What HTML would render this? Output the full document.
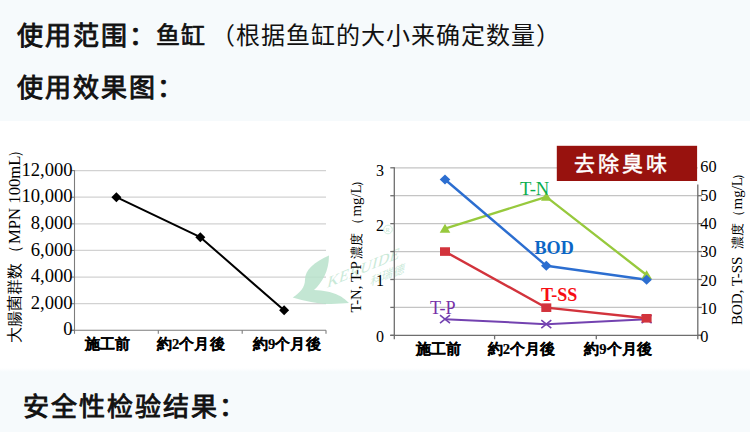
<!DOCTYPE html>
<html lang="zh-CN">
<head>
<meta charset="utf-8">
<style>
html,body{margin:0;padding:0;}
body{width:750px;height:432px;overflow:hidden;background:#f6fafc;position:relative;font-family:"Liberation Sans",sans-serif;color:#111;}
.h{position:absolute;left:17px;white-space:nowrap;font-weight:normal;-webkit-text-stroke:0.9px #111;font-size:26px;letter-spacing:2px;line-height:30px;}
.r{position:absolute;white-space:nowrap;font-weight:normal;font-size:24px;letter-spacing:1px;line-height:30px;}
#chart{position:absolute;left:0;top:121px;width:750px;height:251px;background:linear-gradient(to bottom,#fff 0,#fff 247px,#f6fafc 251px);}
svg{position:absolute;left:0;top:0;}
svg text{font-family:"Liberation Serif",serif;}
svg .cj{font-family:"Liberation Sans",sans-serif;}
</style>
</head>
<body>
<div class="h" style="top:21px;">使用范围：</div>
<div class="r" style="top:21px;left:156px;-webkit-text-stroke:0.7px #111;">鱼缸</div>
<div class="r" style="top:21px;left:210.5px;">（根据鱼缸的大小来确定数量）</div>
<div class="h" style="top:73px;">使用效果图：</div>
<div id="chart"></div>
<svg width="750" height="432" viewBox="0 0 750 432">

<g stroke="#d2d2d2" stroke-width="1.2">
<line x1="74.5" y1="170.6" x2="326" y2="170.6"/>
<line x1="74.5" y1="197.22" x2="326" y2="197.22"/>
<line x1="74.5" y1="223.84" x2="326" y2="223.84"/>
<line x1="74.5" y1="250.46" x2="326" y2="250.46"/>
<line x1="74.5" y1="277.08" x2="326" y2="277.08"/>
<line x1="74.5" y1="303.7" x2="326" y2="303.7"/>
</g>
<g stroke="#7c7c7c" stroke-width="1.1">
<line x1="74.5" y1="170.1" x2="74.5" y2="333.82"/>
<line x1="71" y1="330.32" x2="326" y2="330.32"/>
<line x1="71" y1="170.6" x2="74.5" y2="170.6"/>
<line x1="71" y1="197.22" x2="74.5" y2="197.22"/>
<line x1="71" y1="223.84" x2="74.5" y2="223.84"/>
<line x1="71" y1="250.46" x2="74.5" y2="250.46"/>
<line x1="71" y1="277.08" x2="74.5" y2="277.08"/>
<line x1="71" y1="303.7" x2="74.5" y2="303.7"/>
<line x1="71" y1="330.32" x2="74.5" y2="330.32"/>
<line x1="158.3" y1="330.32" x2="158.3" y2="333.82"/>
<line x1="242.2" y1="330.32" x2="242.2" y2="333.82"/>
<line x1="326" y1="330.32" x2="326" y2="333.82"/>
</g>
<g font-size="18.6" text-anchor="end" fill="#000">
<text x="72.6" y="175.7">12,000</text>
<text x="72.6" y="202.32">10,000</text>
<text x="72.6" y="228.94">8,000</text>
<text x="72.6" y="255.56">6,000</text>
<text x="72.6" y="282.18">4,000</text>
<text x="72.6" y="308.8">2,000</text>
<text x="72.6" y="335.42">0</text>
</g>
<polyline points="116.4,197.22 200.3,237.15 284.1,310.36" fill="none" stroke="#000" stroke-width="2" stroke-linejoin="round"/>
<g fill="#000">
<path d="M116.4,192.22 L121.4,197.22 L116.4,202.22 L111.4,197.22Z"/>
<path d="M200.3,232.15 L205.3,237.15 L200.3,242.15 L195.3,237.15Z"/>
<path d="M284.1,305.36 L289.1,310.36 L284.1,315.36 L279.1,310.36Z"/>
</g>
<g font-size="14.6" font-weight="bold" fill="#000" stroke="#000" stroke-width="0.2" lang="ja" letter-spacing="0.05">
<text class="cj" x="85" y="349.3">施工前</text>
<text class="cj" x="157" y="349.3">約<tspan style="font-family:'Liberation Serif'">2</tspan>个月後</text>
<text class="cj" x="253" y="349.3">約<tspan style="font-family:'Liberation Serif'">9</tspan>个月後</text>
</g>
<g transform="translate(20,342.5) rotate(-90)" fill="#000" lang="ja">
<text class="cj" x="-0.5" y="0" font-size="16.3">大腸菌群数</text>
<text class="cj" x="81.5" y="0" font-size="16.3">（</text>
<text x="98.5" y="0" font-size="16.7">MPN 100mL</text>
<text class="cj" x="185" y="0" font-size="16.3">）</text>
</g>
<path fill="#b9e2cb" fill-opacity="0.85" d="M329,255.5 C314,262 305,270 305,280 C305,287 300,293 292.7,297.5 C305,301 320,304.5 331,304 C338,303.5 344,303.5 349,303 C342,296 334,291 314,290 C322,283 329,271 329,255.5Z"/>
<g transform="matrix(0.92,-0.38,-0.22,0.97,326.5,288)" fill="#c9e9d7"><text x="0" y="0" font-size="17" letter-spacing="0.6">KERUIDE</text></g>
<g transform="matrix(0.92,-0.38,-0.15,0.99,370,286)" fill="#cbeada" lang="zh-CN"><text class="cj" x="0" y="0" font-size="12.3" letter-spacing="0.3">科瑞德</text></g>
<circle cx="388" cy="229.5" r="4.3" fill="none" stroke="#c5e8d5" stroke-width="0.8"/>
<text x="385.4" y="232" font-size="6.5" fill="#c5e8d5">R</text>
<g stroke="#c4c4c4" stroke-width="1.25">
<line x1="394.3" y1="167.8" x2="697.8" y2="167.8"/>
<line x1="394.3" y1="195.72" x2="697.8" y2="195.72"/>
<line x1="394.3" y1="223.64" x2="697.8" y2="223.64"/>
<line x1="394.3" y1="251.56" x2="697.8" y2="251.56"/>
<line x1="394.3" y1="279.48" x2="697.8" y2="279.48"/>
<line x1="394.3" y1="307.4" x2="697.8" y2="307.4"/>
</g>
<g stroke="#6e6e6e" stroke-width="1.3">
<line x1="394.3" y1="167.3" x2="394.3" y2="339.32"/>
<line x1="697.8" y1="184.5" x2="697.8" y2="339.32"/>
<line x1="390.3" y1="335.32" x2="701.8" y2="335.32"/>
<line x1="390.3" y1="167.8" x2="394.3" y2="167.8"/>
<line x1="390.3" y1="195.72" x2="394.3" y2="195.72"/>
<line x1="390.3" y1="223.64" x2="394.3" y2="223.64"/>
<line x1="390.3" y1="251.56" x2="394.3" y2="251.56"/>
<line x1="390.3" y1="279.48" x2="394.3" y2="279.48"/>
<line x1="390.3" y1="307.4" x2="394.3" y2="307.4"/>
<line x1="390.3" y1="335.32" x2="394.3" y2="335.32"/>
<line x1="697.8" y1="195.72" x2="701.8" y2="195.72"/>
<line x1="697.8" y1="223.64" x2="701.8" y2="223.64"/>
<line x1="697.8" y1="251.56" x2="701.8" y2="251.56"/>
<line x1="697.8" y1="279.48" x2="701.8" y2="279.48"/>
<line x1="697.8" y1="307.4" x2="701.8" y2="307.4"/>
<line x1="697.8" y1="335.32" x2="701.8" y2="335.32"/>
<line x1="494.6" y1="335.32" x2="494.6" y2="339.32"/>
<line x1="596.3" y1="335.32" x2="596.3" y2="339.32"/>
</g>
<g font-size="16" text-anchor="end" fill="#000">
<text x="384" y="176">3</text>
<text x="384" y="231.3">2</text>
<text x="384" y="286.3">1</text>
<text x="384" y="342">0</text>
</g>
<g font-size="16.3" fill="#000">
<text x="700.3" y="172.3">60</text>
<text x="700.3" y="200.5">50</text>
<text x="700.3" y="228.8">40</text>
<text x="700.3" y="257.2">30</text>
<text x="700.3" y="285.6">20</text>
<text x="700.3" y="314">10</text>
<text x="700.3" y="342.4">0</text>
</g>
<polyline points="445,319.13 546.3,324.15 646.6,319.13" fill="none" stroke="#7342b0" stroke-width="2.0" stroke-linejoin="round"/>
<g stroke="#7342b0" stroke-width="1.6" fill="none">
<path d="M440,315.13 L450,323.13 M440,323.13 L450,315.13"/>
<path d="M541.3,320.15 L551.3,328.15 M541.3,328.15 L551.3,320.15"/>
<path d="M641.6,315.13 L651.6,323.13 M641.6,323.13 L651.6,315.13"/>
</g>
<polyline points="445,251.56 546.3,307.68 646.6,318.29" fill="none" stroke="#d2333c" stroke-width="2.4" stroke-linejoin="round"/>
<polyline points="445,228.67 546.3,196.84 646.6,275.01" fill="none" stroke="#97c93d" stroke-width="2.3" stroke-linejoin="round"/>
<polyline points="445,179.53 546.3,265.8 646.6,279.76" fill="none" stroke="#2c6ed0" stroke-width="2.4" stroke-linejoin="round"/>
<g fill="#97c93d">
<path d="M445,223.87 L450.3,232.67 L439.7,232.67Z"/>
<path d="M546.3,192.04 L551.6,200.84 L541,200.84Z"/>
<path d="M646.6,270.21 L651.9,279.01 L641.3,279.01Z"/>
</g><g fill="#d2333c">
<rect x="440" y="247.26" width="10" height="8.6"/>
<rect x="541.3" y="303.38" width="10" height="8.6"/>
<rect x="641.6" y="313.99" width="10" height="8.6"/>
</g><g fill="#2c6ed0">
<path d="M445,174.53 L450.3,179.53 L445,184.53 L439.7,179.53Z"/>
<path d="M546.3,260.8 L551.6,265.8 L546.3,270.8 L541,265.8Z"/>
<path d="M646.6,274.76 L651.9,279.76 L646.6,284.76 L641.3,279.76Z"/>
</g>
<text x="520" y="194.8" font-size="19" textLength="29.3" lengthAdjust="spacingAndGlyphs" fill="#0aae4e">T-N</text>
<text x="534.5" y="253.7" font-size="18.8" font-weight="bold" textLength="39.3" lengthAdjust="spacingAndGlyphs" fill="#0b66c6">BOD</text>
<text x="541" y="301" font-size="19.3" font-weight="bold" textLength="36.4" lengthAdjust="spacingAndGlyphs" fill="#f70d14">T-SS</text>
<text x="430" y="313.6" font-size="18.4" textLength="25.5" lengthAdjust="spacingAndGlyphs" fill="#7630a8">T-P</text>
<g font-size="14.6" font-weight="bold" fill="#000" stroke="#000" stroke-width="0.2" lang="ja" letter-spacing="0.05">
<text class="cj" x="416.3" y="354.3">施工前</text>
<text class="cj" x="487.7" y="354.3">約<tspan style="font-family:'Liberation Serif'">2</tspan>个月後</text>
<text class="cj" x="584.1" y="354.3">約<tspan style="font-family:'Liberation Serif'">9</tspan>个月後</text>
</g>
<g transform="translate(360.8,312.5) rotate(-90)" fill="#000" lang="ja">
<text x="0" y="0" font-size="14.8">T-N, T-P</text>
<text class="cj" x="53.5" y="0" font-size="13">濃度</text>
<text class="cj" x="82" y="0" font-size="13">（</text>
<text x="96" y="0" font-size="14.8">mg/L</text>
<text class="cj" x="126" y="0" font-size="13">）</text>
</g>
<g transform="translate(742,325) rotate(-90)" fill="#000" lang="ja">
<text x="0" y="0" font-size="15">BOD, T-SS</text>
<text class="cj" x="76" y="0" font-size="13">濃度</text>
<text class="cj" x="102" y="0" font-size="13">（</text>
<text x="115.5" y="0" font-size="15">mg/L</text>
<text class="cj" x="145.5" y="0" font-size="13">）</text>
</g>
<rect x="556.8" y="145.8" width="140.3" height="35.2" fill="#98120e"/>
<text class="cj" x="574" y="171" font-size="21" fill="#fff" stroke="#fff" stroke-width="0.5" letter-spacing="3">去除臭味</text>

</svg>
<div class="h" style="top:392px;left:22.5px;">安全性检验结果：</div>
</body>
</html>
